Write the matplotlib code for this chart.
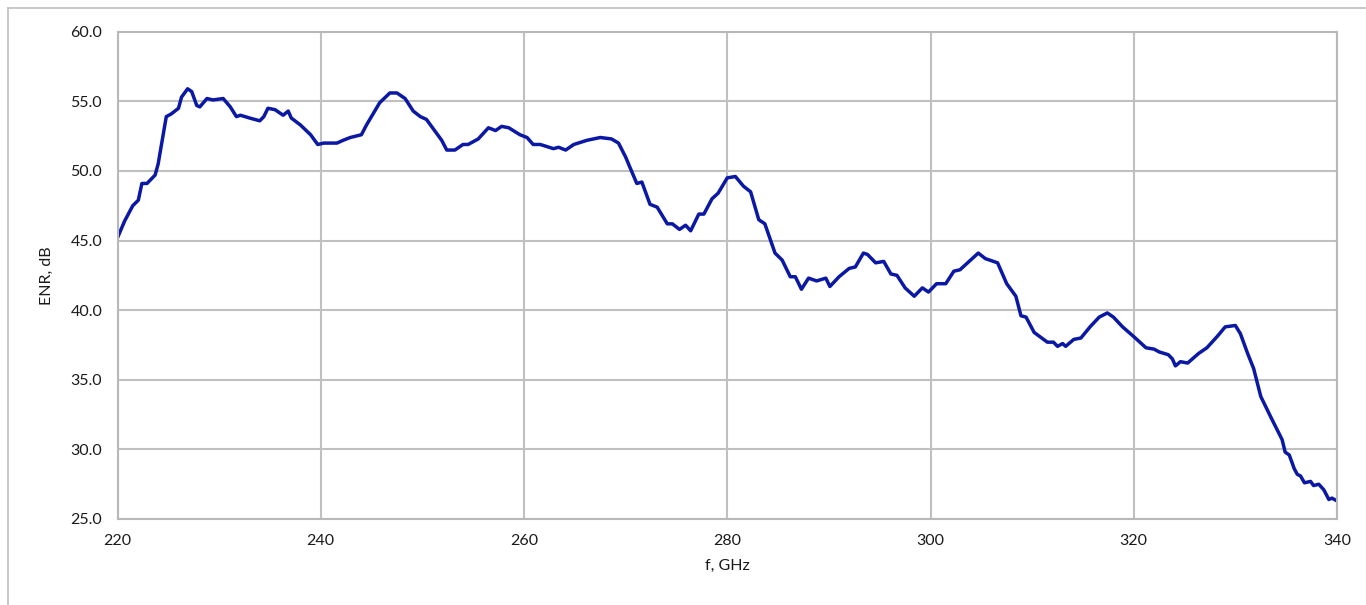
import matplotlib
matplotlib.use("Agg")
import matplotlib.pyplot as plt
from matplotlib.lines import Line2D

freq_ghz = [220.0, 220.7, 221.5, 222.05, 222.4, 222.9, 223.7, 224.0, 224.8, 225.3,
            226.0, 226.3, 226.9, 227.3, 227.8, 228.1, 228.8, 229.4, 230.4, 231.1,
            231.7, 232.1, 233.0, 234.0, 234.4, 234.8, 235.5, 236.3, 236.8, 237.1,
            238.0, 239.0, 239.7, 240.3, 241.2, 241.6, 242.2, 242.9, 244.0, 244.5,
            245.8, 246.8, 247.5, 248.3, 249.1, 249.8, 250.4, 251.4, 251.9, 252.4,
            253.2, 254.0, 254.5, 255.5, 256.5, 257.2, 257.8, 258.5, 259.6, 260.3,
            260.9, 261.6, 262.9, 263.4, 264.1, 264.9, 266.2, 267.5, 268.6, 269.3,
            270.0, 270.4, 271.1, 271.6, 272.4, 273.1, 274.1, 274.6, 275.3, 275.9,
            276.4, 277.2, 277.7, 278.5, 279.1, 280.0, 280.8, 281.6, 282.3, 283.1,
            283.7, 284.7, 285.4, 286.2, 286.7, 287.3, 288.0, 288.8, 289.7, 290.1,
            291.0, 292.0, 292.6, 293.4, 293.8, 294.6, 295.4, 296.1, 296.7, 297.5,
            298.4, 299.2, 299.8, 300.6, 301.5, 302.3, 302.9, 303.8, 304.7, 305.4,
            306.6, 307.5, 308.4, 308.9, 309.4, 310.2, 311.5, 312.1, 312.5, 313.0,
            313.3, 314.1, 314.8, 315.7, 316.6, 317.4, 318.0, 318.9, 320.0, 321.2,
            322.0, 322.5, 323.4, 323.8, 324.1, 324.6, 325.3, 326.4, 327.2, 328.2,
            329.0, 330.0, 330.5, 331.2, 331.8, 332.5, 333.5, 334.6, 334.9, 335.3,
            335.8, 336.1, 336.4, 336.8, 337.4, 337.7, 338.2, 338.7, 339.2, 339.5,
            340.0]
enr_db = [45.2, 46.4, 47.5, 47.9, 49.1, 49.1, 49.7, 50.5, 53.9, 54.1,
          54.5, 55.3, 55.9, 55.7, 54.7, 54.6, 55.2, 55.1, 55.2, 54.6,
          53.9, 54.0, 53.8, 53.6, 53.9, 54.5, 54.4, 54.0, 54.3, 53.8,
          53.3, 52.6, 51.9, 52.0, 52.0, 52.0, 52.2, 52.4, 52.6, 53.3,
          54.9, 55.6, 55.6, 55.2, 54.3, 53.9, 53.7, 52.7, 52.2, 51.5,
          51.5, 51.9, 51.9, 52.3, 53.1, 52.9, 53.2, 53.1, 52.6, 52.4,
          51.9, 51.9, 51.6, 51.7, 51.5, 51.9, 52.2, 52.4, 52.3, 52.0,
          51.0, 50.3, 49.1, 49.2, 47.6, 47.4, 46.2, 46.2, 45.8, 46.1,
          45.7, 46.9, 46.9, 48.0, 48.4, 49.5, 49.6, 48.9, 48.5, 46.5,
          46.2, 44.1, 43.6, 42.4, 42.4, 41.5, 42.3, 42.1, 42.3, 41.7,
          42.4, 43.0, 43.1, 44.1, 44.0, 43.4, 43.5, 42.6, 42.5, 41.6,
          41.0, 41.6, 41.3, 41.9, 41.9, 42.8, 42.9, 43.5, 44.1, 43.7,
          43.4, 41.9, 41.0, 39.6, 39.5, 38.4, 37.7, 37.7, 37.4, 37.6,
          37.4, 37.9, 38.0, 38.8, 39.5, 39.8, 39.5, 38.8, 38.1, 37.3,
          37.2, 37.0, 36.8, 36.5, 36.0, 36.3, 36.2, 36.9, 37.3, 38.1,
          38.8, 38.9, 38.3, 36.9, 35.8, 33.8, 32.3, 30.7, 29.8, 29.6,
          28.6, 28.2, 28.1, 27.6, 27.7, 27.4, 27.5, 27.1, 26.4, 26.5,
          26.3]

x_ticks = [220, 240, 260, 280, 300, 320, 340]
y_ticks = [25, 30, 35, 40, 45, 50, 55, 60]

plt.rcParams['font.family'] = ['Lato', 'DejaVu Sans']

W, H = 1366, 605
fig = plt.figure(figsize=(W / 100, H / 100), dpi=100)
fig.patch.set_facecolor('white')

# outer chart border (left and top visible)
fig.add_artist(Line2D([8 / W, 8 / W], [0, 1 - 8 / H], color='#bfbfbf', lw=1.2))
fig.add_artist(Line2D([8 / W, 1], [1 - 8 / H, 1 - 8 / H], color='#bfbfbf', lw=1.2))

ax = fig.add_axes([117.5 / W, 1 - 519 / H, (1337 - 117.5) / W, (519 - 31.7) / H])
ax.plot(freq_ghz, enr_db, color='#0a18a4', lw=2.5, solid_joinstyle='round')

ax.set_xlim(220, 340)
ax.set_ylim(25, 60)
ax.set_xticks(x_ticks)
ax.set_yticks(y_ticks)
ax.set_xticklabels([str(v) for v in x_ticks])
ax.set_yticklabels([f"{v:.1f}" for v in y_ticks])
ax.grid(True, color='#c0c0c0', lw=1.5)
ax.set_axisbelow(True)
for s in ax.spines.values():
    s.set_color('#b8b8b8')
    s.set_linewidth(1.5)
ax.tick_params(axis='both', length=0, labelsize=11.5, colors='#1a1a1a')
ax.tick_params(axis='y', pad=11)
ax.tick_params(axis='x', pad=11)

ax.set_xlabel('f, GHz', fontsize=11.5, color='#1a1a1a', labelpad=8)
ax.set_ylabel('ENR, dB', fontsize=11.5, color='#1a1a1a', labelpad=12)

fig.savefig('out.png', dpi=100, facecolor='white')
